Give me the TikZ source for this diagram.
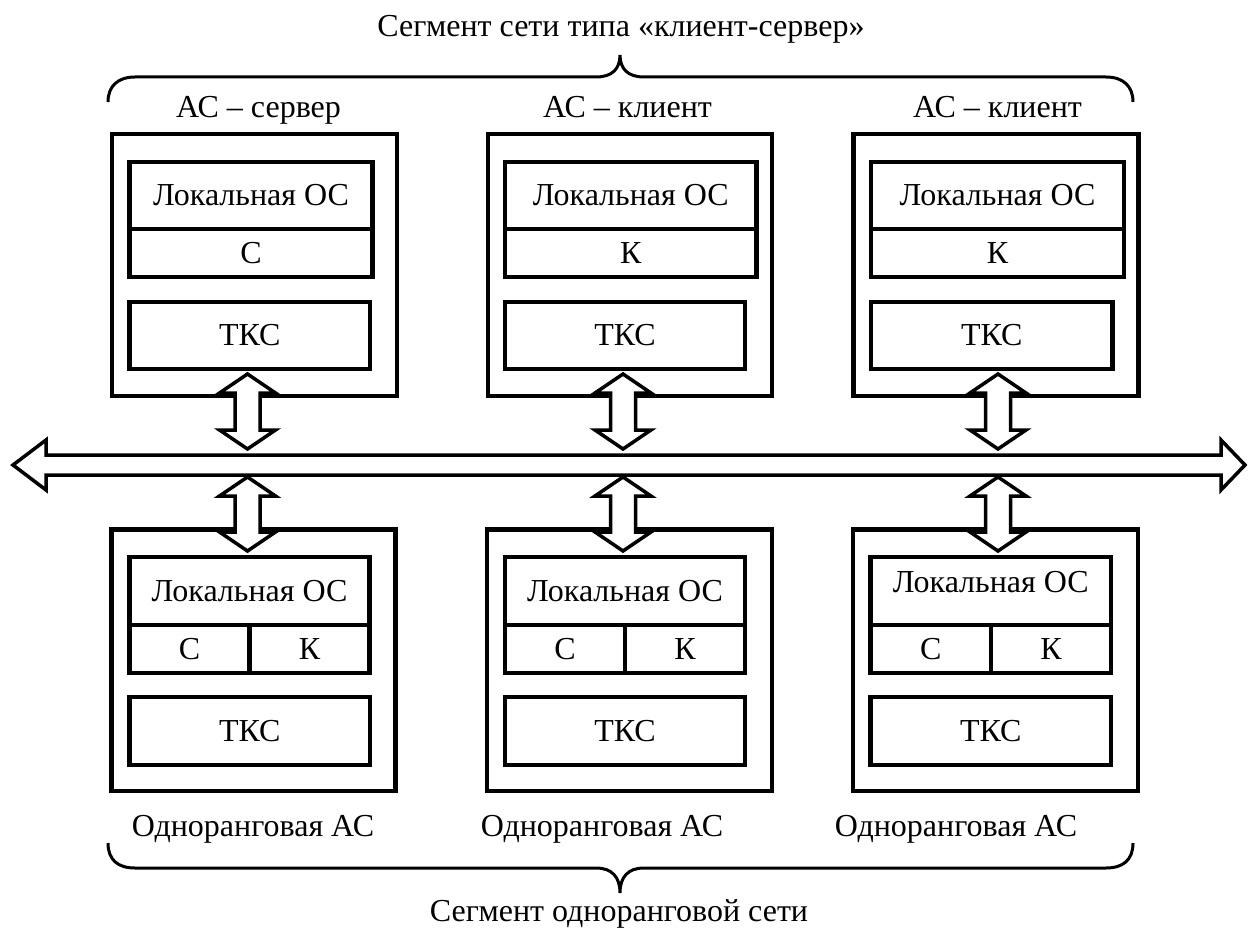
\documentclass[tikz,border=0pt]{standalone}
\usepackage{fontspec}
\setmainfont{Liberation Serif}
\usetikzlibrary{calc}
\newcommand\fatvarrow[2]{%
  \draw[fat] let \p1=(#1),\p2=(#2) in
    (\x1,\y1) -- (\x1+28pt,\y1-19pt) -- (\x1+12.5pt,\y1-19pt) -- (\x1+12.5pt,\y2+19pt)
    -- (\x1+28pt,\y2+19pt) -- (\x1,\y2) -- (\x1-28pt,\y2+19pt) -- (\x1-12.5pt,\y2+19pt)
    -- (\x1-12.5pt,\y1-19pt) -- (\x1-28pt,\y1-19pt) -- cycle;}
\begin{document}
\begin{tikzpicture}[x=1pt,y=-1pt,
  txt/.style={font=\fontsize{32}{38}\selectfont, inner sep=0pt},
  box/.style={draw, line width=4.5pt, inner sep=0pt, font=\fontsize{32}{38}\selectfont},
  fat/.style={draw, line width=3.5pt, fill=white, line join=miter, miter limit=10},
  bracestyle/.style={draw, line width=3pt, line cap=butt}]
\useasboundingbox (0,0) rectangle (1249,928);

% ---- titles
\node[txt, anchor=base] (title) at (621,37) {Сегмент сети типа «клиент-сервер»};
\node[txt, anchor=base] (btitle) at (619,921) {Сегмент одноранговой сети};

% ---- braces
\draw[bracestyle] (108,102) .. controls (108,86) and (118,77) .. (135,77) -- (596,77)
  .. controls (612,77) and (620,69) .. (620,55) .. controls (620,69) and (628,77) .. (644,77)
  -- (1106,77) .. controls (1123,77) and (1133,86) .. (1133,102);
\draw[bracestyle] (108,843) .. controls (108,860) and (118,868) .. (135,868) -- (596,868)
  .. controls (612,868) and (620,877) .. (620,893) .. controls (620,877) and (628,868) .. (644,868)
  -- (1106,868) .. controls (1123,868) and (1133,860) .. (1133,843);

% ---- top labels
\node[txt, anchor=base] (h1) at (258.5,118) {АС – сервер};
\node[txt, anchor=base] (h2) at (627.5,118) {АС – клиент};
\node[txt, anchor=base] (h3) at (997.5,118) {АС – клиент};

% ---- top stations
\node[box, minimum width=285pt, minimum height=262pt] (o1) at (254.5,265) {};
\node[box, minimum width=243pt, minimum height=67pt] (l1) at (251,195.5) {Локальная ОС};
\node[box, minimum width=243pt, minimum height=48pt] (s1) at (251,253) {С};
\node[box, minimum width=240.5pt, minimum height=67pt] (t1) at (249.75,335.5) {ТКС};

\node[box, minimum width=284pt, minimum height=262pt] (o2) at (630,265) {};
\node[box, minimum width=251.5pt, minimum height=67pt] (l2) at (630.75,195.5) {Локальная ОС};
\node[box, minimum width=251.5pt, minimum height=48pt] (s2) at (630.75,253) {К};
\node[box, minimum width=240pt, minimum height=67pt] (t2) at (625,335.5) {ТКС};

\node[box, minimum width=285pt, minimum height=262pt] (o3) at (996,265) {};
\node[box, minimum width=253pt, minimum height=67pt] (l3) at (997.5,195.5) {Локальная ОС};
\node[box, minimum width=253pt, minimum height=48pt] (s3) at (997.5,253) {К};
\node[box, minimum width=241.5pt, minimum height=67pt] (t3) at (991.75,335.5) {ТКС};

% ---- bottom stations
\node[box, minimum width=284pt, minimum height=261.5pt] (p1) at (253.5,660.25) {};
\node[box, minimum width=240pt, minimum height=68pt] (m1) at (249.5,591) {Локальная ОС};
\node[box, minimum width=120pt, minimum height=48pt] (c1) at (189.5,649) {С};
\node[box, minimum width=120pt, minimum height=48pt] (k1) at (309.5,649) {К};
\node[box, minimum width=240.5pt, minimum height=68pt] (u1) at (249.75,731) {ТКС};

\node[box, minimum width=285pt, minimum height=261.5pt] (p2) at (629.5,660.25) {};
\node[box, minimum width=240pt, minimum height=68pt] (m2) at (625,591) {Локальная ОС};
\node[box, minimum width=120pt, minimum height=48pt] (c2) at (565,649) {С};
\node[box, minimum width=120pt, minimum height=48pt] (k2) at (685,649) {К};
\node[box, minimum width=240pt, minimum height=68pt] (u2) at (625,731) {ТКС};

\node[box, minimum width=285pt, minimum height=261.5pt] (p3) at (995.5,660.25) {};
\node[box, minimum width=240.5pt, minimum height=68pt] (m3) at (990.75,591) {};
\node[txt] (m3t) at (990.75,582) {Локальная ОС};
\node[box, minimum width=120.5pt, minimum height=48pt] (c3) at (930.75,649) {С};
\node[box, minimum width=120pt, minimum height=48pt] (k3) at (1051,649) {К};
\node[box, minimum width=240.5pt, minimum height=68pt] (u3) at (990.75,731) {ТКС};

% ---- bottom labels
\node[txt, anchor=base] (f1) at (253,836) {Одноранговая АС};
\node[txt, anchor=base] (f2) at (602,836) {Одноранговая АС};
\node[txt, anchor=base] (f3) at (956,836) {Одноранговая АС};

% ---- bus
\coordinate (busL) at (13,465);
\coordinate (busR) at (1245,465);
\draw[fat] let \p1=(busL),\p2=(busR) in
  (\x1,\y1) -- (\x1+33pt,\y1+25pt) -- (\x1+33pt,\y1+10pt) -- (\x2-24pt,\y1+10pt)
  -- (\x2-24pt,\y1+25pt) -- (\x2,\y1) -- (\x2-24pt,\y1-25pt) -- (\x2-24pt,\y1-10pt)
  -- (\x1+33pt,\y1-10pt) -- (\x1+33pt,\y1-25pt) -- cycle;

% ---- vertical double arrows
\coordinate (a1t) at (247.5,374); \coordinate (a1b) at (247.5,449);
\coordinate (b1t) at (247.5,477); \coordinate (b1b) at (247.5,551);
\coordinate (a2t) at (623,374); \coordinate (a2b) at (623,449);
\coordinate (b2t) at (623,477); \coordinate (b2b) at (623,551);
\coordinate (a3t) at (998,374); \coordinate (a3b) at (998,449);
\coordinate (b3t) at (998,477); \coordinate (b3b) at (998,551);
\fatvarrow{a1t}{a1b}\fatvarrow{b1t}{b1b}
\fatvarrow{a2t}{a2b}\fatvarrow{b2t}{b2b}
\fatvarrow{a3t}{a3b}\fatvarrow{b3t}{b3b}
\end{tikzpicture}
\end{document}
